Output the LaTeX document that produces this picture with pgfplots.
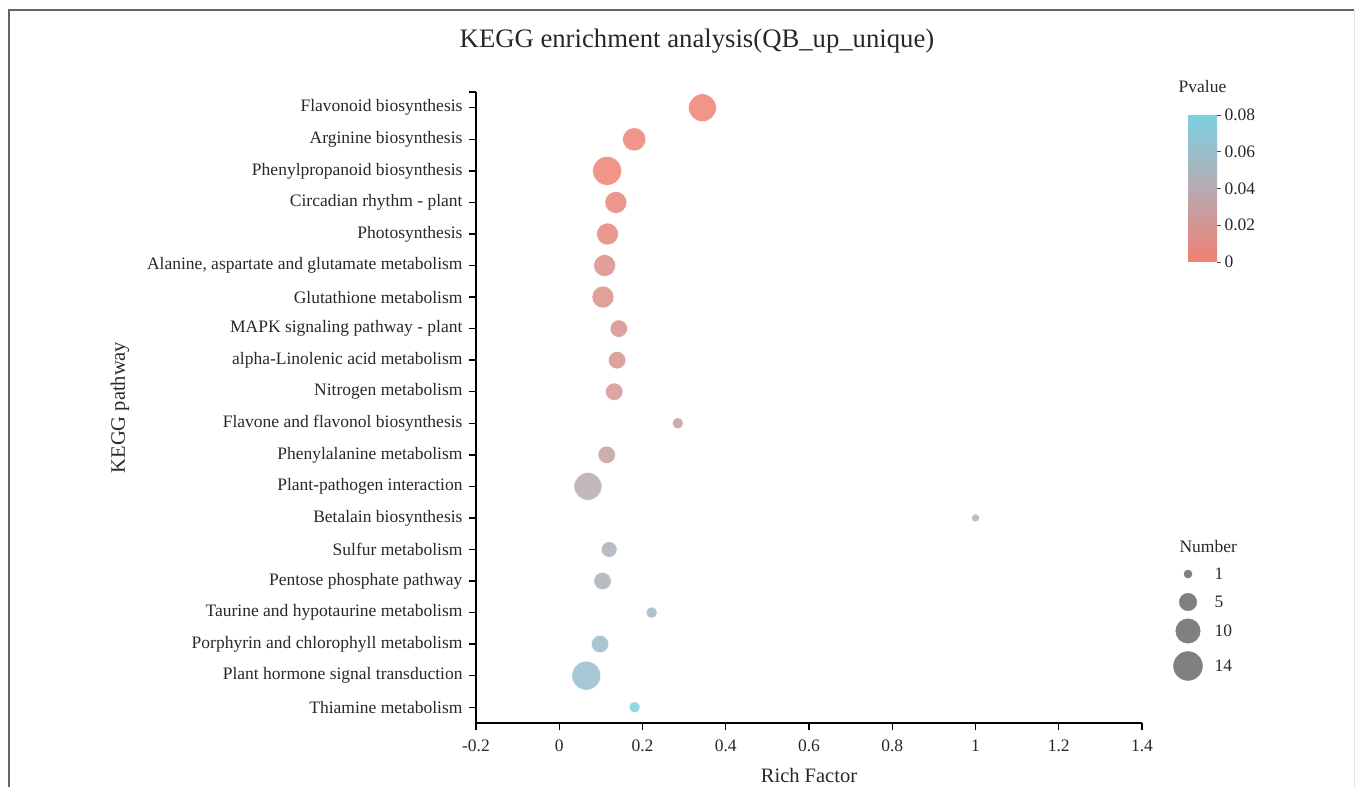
\documentclass[border=0pt]{standalone}
\usepackage{pgfplots}
\pgfplotsset{compat=1.18}
\usepackage{pgfplotstable}
\usepackage{fontspec}
\setmainfont{Liberation Serif}

\definecolor{lgray}{RGB}{128,128,128}
\definecolor{txt}{RGB}{40,40,40}

\pgfplotstableread{
idx rf n p
19 0.344 13 0.001
18 0.180 9 0.003
17 0.115 14 0.002
16 0.136 8 0.005
15 0.116 8 0.006
14 0.109 8 0.013
13 0.105 8 0.015
12 0.143 5 0.016
11 0.139 5 0.017
10 0.132 5 0.020
9 0.285 2 0.027
8 0.114 5 0.030
7 0.069 13 0.040
6 1.000 1 0.044
5 0.120 4 0.047
4 0.104 5 0.048
3 0.222 2 0.055
2 0.098 5 0.060
1 0.065 14 0.063
0 0.181 2 0.080
}\datatable

\pgfplotstableread{
x y n
38 126 1
38 98 5
38 69 10
38 34 14
}\legtable

\begin{document}
\begin{tikzpicture}
\useasboundingbox (0,0) rectangle (1355bp,787bp);
\draw[line width=1.5bp, black!60] (9bp,0) -- (9bp,777bp) -- (1354bp,777bp);
\draw[line width=1bp, black!12] (1354bp,777bp) -- (1354bp,0);
\node[font=\fontsize{26.7bp}{30bp}\selectfont, text=txt] at (697bp,746bp) {KEGG enrichment analysis(QB\_up\_unique)};

\begin{axis}[
  at={(476bp,64bp)}, anchor=south west,
  scale only axis, width=666bp, height=631bp,
  xmin=-0.2, xmax=1.4, ymin=-0.5, ymax=19.5,
  clip=false,
  axis x line*=bottom, axis y line*=left,
  axis line style={line width=1.6bp, black},
  xtick={-0.2,0,0.2,0.4,0.6,0.8,1,1.2,1.4},
  xticklabels={-0.2,0,0.2,0.4,0.6,0.8,1,1.2,1.4},
  ytick={0,...,19},
  yticklabels={Thiamine metabolism, Plant hormone signal transduction, Porphyrin and chlorophyll metabolism, Taurine and hypotaurine metabolism, Pentose phosphate pathway, Sulfur metabolism, Betalain biosynthesis, Plant-pathogen interaction, Phenylalanine metabolism, Flavone and flavonol biosynthesis, Nitrogen metabolism, alpha-Linolenic acid metabolism, MAPK signaling pathway - plant, Glutathione metabolism, {Alanine, aspartate and glutamate metabolism}, Photosynthesis, Circadian rhythm - plant, Phenylpropanoid biosynthesis, Arginine biosynthesis, Flavonoid biosynthesis},
  extra y ticks={19.5}, extra y tick labels={},
  tick align=outside, major tick length=7bp,
  major tick style={line width=1.4bp, black},
  tick label style={font=\fontsize{17.5bp}{20bp}\selectfont, text=txt},
  yticklabel style={xshift=-3bp},
  xticklabel style={yshift=-6bp},
  /pgf/number format/assume math mode=true,
  xlabel={Rich Factor}, ylabel={KEGG pathway},
  xlabel style={at={(axis description cs:0.5,-0.0824)}, anchor=center, font=\fontsize{20.5bp}{24bp}\selectfont, text=txt},
  ylabel style={at={(axis description cs:-0.5345,0.5)}, anchor=center, font=\fontsize{20.5bp}{24bp}\selectfont, text=txt},
  colormap={pv}{rgb255(0cm)=(240,128,114); rgb255(1cm)=(182,170,178); rgb255(2cm)=(125,208,224)},
  point meta min=0, point meta max=0.08,
  colorbar,
  colorbar/width=29bp,
  colorbar style={
    at={(parent axis.north east)}, anchor=north west, xshift=37.5bp, yshift=-23bp,
    scale only axis, width=29bp, height=147bp,
    ytick={0,0.02,0.04,0.06,0.08}, yticklabels={0,0.02,0.04,0.06,0.08},
    scaled y ticks=false,
    axis line style={draw=none},
    ytick pos=right,
    ytick align=outside, major tick length=4bp,
    major tick style={black!70, line width=0.8bp},
    yticklabel style={font=\fontsize{17.5bp}{20bp}\selectfont, text=txt},
    title=Pvalue,
    title style={at={(0.5,1)}, anchor=center, yshift=23bp, font=\fontsize{17.5bp}{20bp}\selectfont, text=txt},
  },
]
\addplot[scatter, only marks, mark=*, scatter src=explicit,
  scatter/use mapped color={draw=white, fill=mapped color},
  visualization depends on={0.3+3.8*sqrt(\thisrow{n}) \as \perpointmarksize},
  scatter/@pre marker code/.append style={/tikz/mark size=\perpointmarksize},
  mark options={line width=0.5bp, fill opacity=0.85}]
  table[x=rf, y=idx, meta=p] {\datatable};
\end{axis}

\begin{axis}[
  at={(1150bp,87bp)}, anchor=south west,
  scale only axis, width=205bp, height=170bp,
  xmin=0, xmax=205, ymin=0, ymax=170,
  hide axis, clip=false,
]
\addplot[scatter, only marks, mark=*,
  scatter/use mapped color={draw=lgray, fill=lgray},
  visualization depends on={0.3+3.8*sqrt(\thisrow{n}) \as \perpointmarksize},
  scatter/@pre marker code/.append style={/tikz/mark size=\perpointmarksize}]
  table[x=x, y=y] {\legtable};
\node[anchor=west, font=\fontsize{17.5bp}{20bp}\selectfont, text=txt] at (axis cs:26,153) {Number};
\node[anchor=west, font=\fontsize{17.5bp}{20bp}\selectfont, text=txt] at (axis cs:61,126) {1};
\node[anchor=west, font=\fontsize{17.5bp}{20bp}\selectfont, text=txt] at (axis cs:61,98) {5};
\node[anchor=west, font=\fontsize{17.5bp}{20bp}\selectfont, text=txt] at (axis cs:61,69) {10};
\node[anchor=west, font=\fontsize{17.5bp}{20bp}\selectfont, text=txt] at (axis cs:61,34) {14};
\end{axis}
\end{tikzpicture}
\end{document}
